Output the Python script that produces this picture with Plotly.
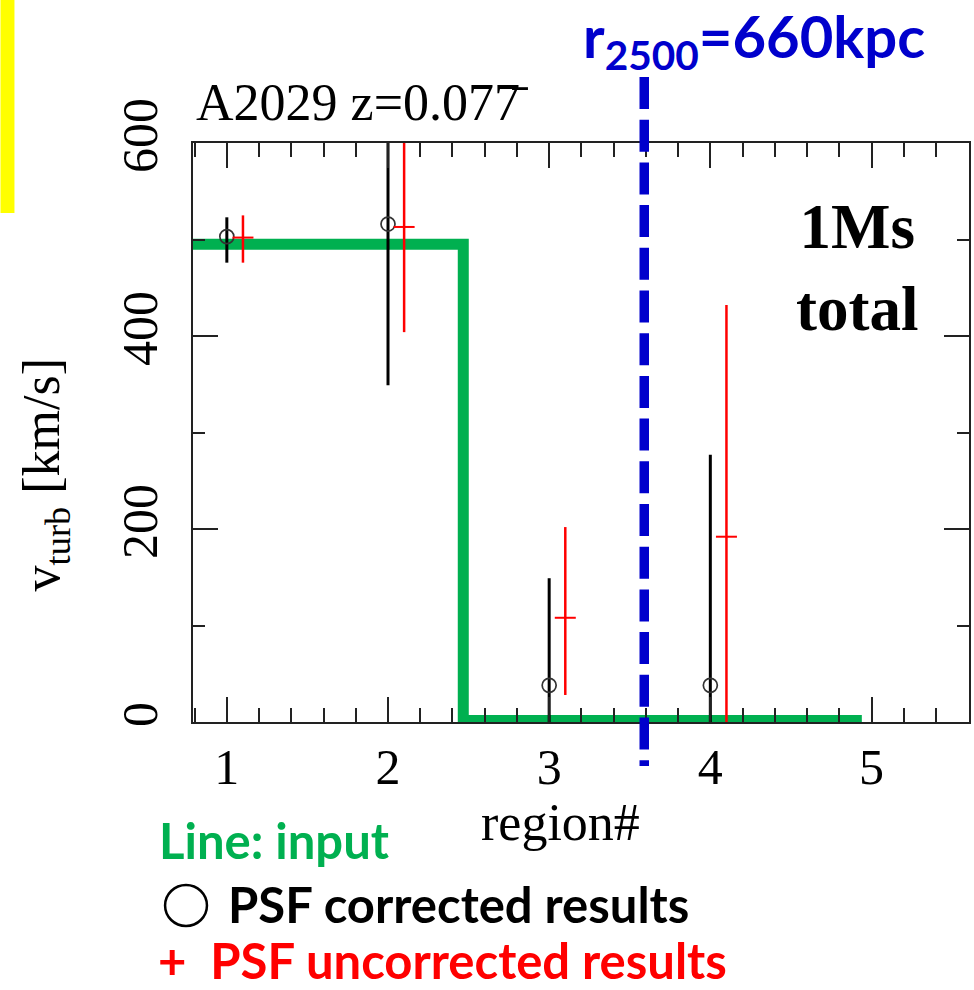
import plotly.graph_objects as go

# ---------------- data ----------------
regions = [1, 2, 3, 4]
uncorr_offset = 0.1
v_corr = [503, 516, 38, 38]
v_corr_hi = [523, 683, 149, 277]
v_corr_lo = [476, 349, 0, 0]
v_uncorr = [502, 513, 108, 192]
v_uncorr_hi = [525, 621, 202, 432]
v_uncorr_lo = [476, 404, 28, 0]
input_x = [0.78, 2.467, 2.467, 4.94]
input_v = [495, 495, 1.5, 1.5]
r2500_region = 3.59
x_ticks = [1, 2, 3, 4, 5]
y_ticks = [0, 200, 400, 600]
x_range = [0.79, 5.605]
y_range = [0, 600]

W, H = 974, 990
L, R, T, B = 193, 3, 143, 268
PW, PH = W - L - R, H - T - B


def px(xp):
    return (xp - L) / PW


def py(yp):
    return (H - B - yp) / PH


def xdata_to_paper(v):
    return (v - x_range[0]) / (x_range[1] - x_range[0])


SERIF = "Liberation Serif"
SANS = "Lato"

fig = go.Figure()

# input step line
fig.add_trace(go.Scatter(
    x=input_x, y=input_v, mode="lines",
    line=dict(color="#00B050", width=11),
    hoverinfo="skip", showlegend=False))

# PSF corrected (black circles)
fig.add_trace(go.Scatter(
    x=regions, y=v_corr, mode="markers",
    marker=dict(symbol="circle-open", size=14, color="#333333", line=dict(width=1.7)),
    error_y=dict(type="data", symmetric=False,
                 array=[h - v for h, v in zip(v_corr_hi, v_corr)],
                 arrayminus=[v - l for v, l in zip(v_corr, v_corr_lo)],
                 color="black", thickness=3, width=0),
    showlegend=False))

# PSF uncorrected (red plus)
fig.add_trace(go.Scatter(
    x=[r + uncorr_offset for r in regions], y=v_uncorr, mode="markers",
    marker=dict(symbol="line-ew-open", size=15, color="red", line=dict(width=2, color="red")),
    error_y=dict(type="data", symmetric=False,
                 array=[h - v for h, v in zip(v_uncorr_hi, v_uncorr)],
                 arrayminus=[v - l for v, l in zip(v_uncorr, v_uncorr_lo)],
                 color="red", thickness=2.5, width=0),
    showlegend=False))

axis_common = dict(
    showline=True, linecolor="#222222", linewidth=2, mirror="ticks",
    ticks="inside", ticklen=25, tickwidth=2, tickcolor="#222222",
    showgrid=False, zeroline=False,
    tickfont=dict(family=SERIF, size=50, color="black"),
)

fig.update_xaxes(range=x_range, tickvals=x_ticks, ticktext=[str(t) for t in x_ticks],
                 minor=dict(ticks="inside", ticklen=14, tickwidth=2, tickcolor="#222222",
                            dtick=0.2, tick0=1, showgrid=False),
                 **axis_common)
fig.update_yaxes(range=y_range, tickvals=y_ticks, ticktext=[str(t) for t in y_ticks],
                 tickangle=-90, ticklabelstandoff=14,
                 minor=dict(ticks="inside", ticklen=12, tickwidth=2, tickcolor="#222222",
                            dtick=100, tick0=0, showgrid=False),
                 **axis_common)

shapes = [
    # yellow bar at the left edge
    dict(type="rect", xref="paper", yref="paper", x0=px(0), x1=px(14), y0=py(0), y1=py(213),
         fillcolor="#FFFF00", line=dict(width=0), layer="below"),
    # r2500 dashed line
    dict(type="line", xref="paper", yref="paper",
         x0=xdata_to_paper(r2500_region), x1=xdata_to_paper(r2500_region),
         y0=py(77), y1=py(766),
         line=dict(color="#0000CC", width=9.5, dash="32px,10.7px"), layer="above"),
    # legend circle
    dict(type="circle", xref="paper", yref="paper", x0=px(165), x1=px(207), y0=py(885), y1=py(926),
         line=dict(color="black", width=2.5)),
]

annotations = [
    dict(text="A2029 z=0.077\u0304", x=px(194), y=py(103), xanchor="left", yanchor="middle",
         font=dict(family=SERIF, size=52, color="black")),
    dict(text="<b>1Ms<br>total</b>", x=px(859), y=py(268), xanchor="center", yanchor="middle",
         font=dict(family=SERIF, size=63, color="black")),
    dict(text="<b>r<sub>2500</sub>=660kpc</b>", x=px(582), y=py(40), xanchor="left", yanchor="middle",
         font=dict(family=SANS, size=58, color="#0000CC")),
    dict(text="region#", x=px(561), y=py(822), xanchor="center", yanchor="middle",
         font=dict(family=SERIF, size=52, color="black")),
    dict(text="v<sub>turb</sub> [km/s]", x=px(45), y=py(475), xanchor="center", yanchor="middle",
         textangle=-90, font=dict(family=SERIF, size=52, color="black")),
    dict(text="<b>Line: input</b>", x=px(157), y=py(840), xanchor="left", yanchor="middle",
         font=dict(family=SANS, size=49, color="#00B050")),
    dict(text="<b>PSF corrected results</b>", x=px(227), y=py(904), xanchor="left", yanchor="middle",
         font=dict(family=SANS, size=49, color="black"), borderpad=0),
    dict(text="<b>+  PSF uncorrected results</b>", x=px(157), y=py(990), xanchor="left", yanchor="bottom",
         font=dict(family=SANS, size=49, color="#FF0000"), borderpad=0),
]
for a in annotations:
    a.update(xref="paper", yref="paper", showarrow=False)

fig.update_layout(
    width=W, height=H,
    margin=dict(l=L, r=R, t=T, b=B, pad=0),
    paper_bgcolor="white", plot_bgcolor="white",
    shapes=shapes, annotations=annotations,
    showlegend=False,
)

fig.write_html("out.html")
